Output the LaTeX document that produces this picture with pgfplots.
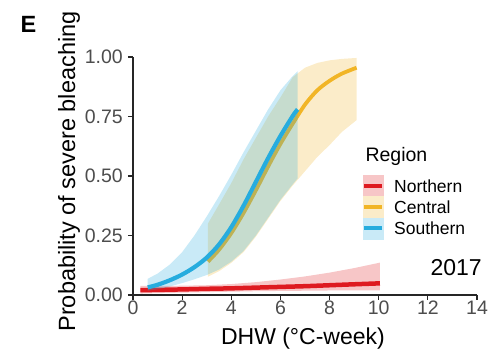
\documentclass[border=0pt]{standalone}
\usepackage{fontspec}
\setmainfont{Liberation Sans}
\usepackage{pgfplots}
\pgfplotsset{compat=1.18}

\definecolor{north}{RGB}{222,26,32}
\definecolor{central}{RGB}{241,181,38}
\definecolor{south}{RGB}{38,172,222}
\definecolor{ticklab}{RGB}{77,77,77}

\begin{document}
\begin{tikzpicture}
\begin{axis}[
  scale only axis, width=344bp, height=238bp,
  xmin=0, xmax=14, ymin=0, ymax=1,
  clip=false,
  axis x line*=bottom, axis y line*=left,
  axis line style={line width=1.3bp, black!85},
  tick align=outside, major tick length=5bp,
  tick style={line width=1.1bp, black!85},
  xtick={0,2,4,6,8,10,12,14},
  xticklabels={0,2,4,6,8,10,12,14},
  ytick={0,0.25,0.5,0.75,1},
  yticklabels={0.00,0.25,0.50,0.75,1.00},
  ticklabel style={font=\fontsize{19.5bp}{20bp}\selectfont, text=ticklab},
  xticklabel style={inner sep=1bp},
  yticklabel style={inner xsep=5bp},
  xlabel={DHW (°C-week)},
  ylabel={Probability of severe bleaching},
  every axis x label/.style={at={(axis description cs:0.494,-0.21)}, anchor=base,
    font=\fontsize{23bp}{24bp}\selectfont},
  every axis y label/.style={at={(axis description cs:-0.1686,0.519)}, rotate=90, anchor=base,
    font=\fontsize{23.5bp}{24bp}\selectfont},
  legend style={at={(axis description cs:0.6657,0.5042)}, anchor=north west,
    draw=none, fill=none, inner sep=0pt, outer sep=0pt, row sep=0bp, column sep=0bp,
    nodes={inner sep=0pt, text depth=0pt},
    font=\fontsize{17.5bp}{18bp}\selectfont},
  legend cell align=left,
]
\coordinate (o) at (rel axis cs:0,0);

% Northern: confidence band and fitted curve
\addplot[draw=none, fill=north, fill opacity=0.25, forget plot] coordinates {
  (0.3,0.038) (1,0.038) (2,0.039) (3,0.041) (4,0.046) (5,0.054) (6,0.065)
  (7,0.078) (8,0.094) (9,0.113) (10.05,0.136)
  (10.05,0.019) (9,0.019) (8,0.019) (7,0.018) (6,0.017) (5,0.016) (4,0.014)
  (3,0.012) (2,0.010) (1,0.008) (0.3,0.006)};
\addplot[north, line width=4.5bp, smooth, forget plot] coordinates {
  (0.3,0.020) (1,0.0215) (2,0.0235) (3,0.026) (4,0.028) (5,0.031) (6,0.034)
  (7,0.037) (8,0.041) (9,0.045) (10.05,0.049)};

% Central: confidence band and fitted curve
\addplot[draw=none, fill=central, fill opacity=0.25, forget plot] coordinates {
  (3.05,0.30) (3.5,0.38) (4.0,0.47) (4.5,0.57) (5.0,0.66) (5.5,0.75) (6.0,0.83)
  (6.5,0.915) (7.0,0.955) (7.5,0.975) (8.0,0.986) (8.5,0.992) (9.1,0.996)
  (9.1,0.735) (8.5,0.685) (8.0,0.63) (7.5,0.58) (7.0,0.52) (6.5,0.46) (6.0,0.395)
  (5.5,0.32) (5.0,0.245) (4.5,0.18) (4.0,0.135) (3.5,0.10) (3.05,0.077)};
\addplot[central, line width=3.8bp, smooth, forget plot] coordinates {
  (3.05,0.14) (3.5,0.19) (4.0,0.26) (4.5,0.345) (5.0,0.44) (5.5,0.54) (6.0,0.635)
  (6.5,0.72) (7.0,0.80) (7.5,0.86) (8.0,0.90) (8.5,0.93) (9.1,0.955)};

% Southern: confidence band and fitted curve
\addplot[draw=none, fill=south, fill opacity=0.25, forget plot] coordinates {
  (0.6,0.068) (1.0,0.09) (1.5,0.128) (2.0,0.18) (2.5,0.25) (3.0,0.33) (3.5,0.415)
  (4.0,0.505) (4.5,0.60) (5.0,0.69) (5.5,0.78) (6.0,0.86) (6.5,0.92) (6.7,0.94)
  (6.7,0.49) (6.5,0.465) (6.0,0.40) (5.5,0.325) (5.0,0.25) (4.5,0.185) (4.0,0.14)
  (3.5,0.107) (3.0,0.084) (2.5,0.066) (2.0,0.05) (1.5,0.036) (1.0,0.024) (0.6,0.018)};
\addplot[south, line width=4.2bp, smooth, forget plot] coordinates {
  (0.6,0.032) (1.0,0.043) (1.5,0.062) (2.0,0.086) (2.5,0.117) (3.0,0.157)
  (3.5,0.212) (4.0,0.285) (4.5,0.375) (5.0,0.475) (5.5,0.575) (6.0,0.668)
  (6.5,0.752) (6.7,0.780)};

% Legend keys: band swatch with the curve drawn across it
\addlegendimage{legend image code/.code={
  \fill[north!25] (0bp,-10.5bp) rectangle (20bp,10.5bp);
  \draw[north, line width=4bp] (1bp,0bp) -- (19bp,0bp);
  \path (31bp,0bp);}}
\addlegendentry{Northern}
\addlegendimage{legend image code/.code={
  \fill[central!25] (0bp,-10.5bp) rectangle (20bp,10.5bp);
  \draw[central, line width=4bp] (1bp,0bp) -- (19bp,0bp);
  \path (31bp,0bp);}}
\addlegendentry{Central}
\addlegendimage{legend image code/.code={
  \fill[south!25] (0bp,-10.5bp) rectangle (20bp,10.5bp);
  \draw[south, line width=4bp] (1bp,0bp) -- (19bp,0bp);
  \path (31bp,0bp);}}
\addlegendentry{Southern}

\node[anchor=base west, font=\fontsize{19.5bp}{20bp}\selectfont]
  at (axis description cs:0.6657,0.563) {Region};
\node[anchor=base west, font=\fontsize{23bp}{24bp}\selectfont]
  at (axis description cs:0.8547,0.084) {2017};
\node[anchor=base west, font=\fontsize{23.5bp}{24bp}\selectfont\bfseries]
  at (axis description cs:-0.337,1.105) {E};
\end{axis}
\pgfresetboundingbox
\path[use as bounding box] ([shift={(-133bp,-57bp)}]o) rectangle ([shift={(359bp,295bp)}]o);
\end{tikzpicture}
\end{document}
